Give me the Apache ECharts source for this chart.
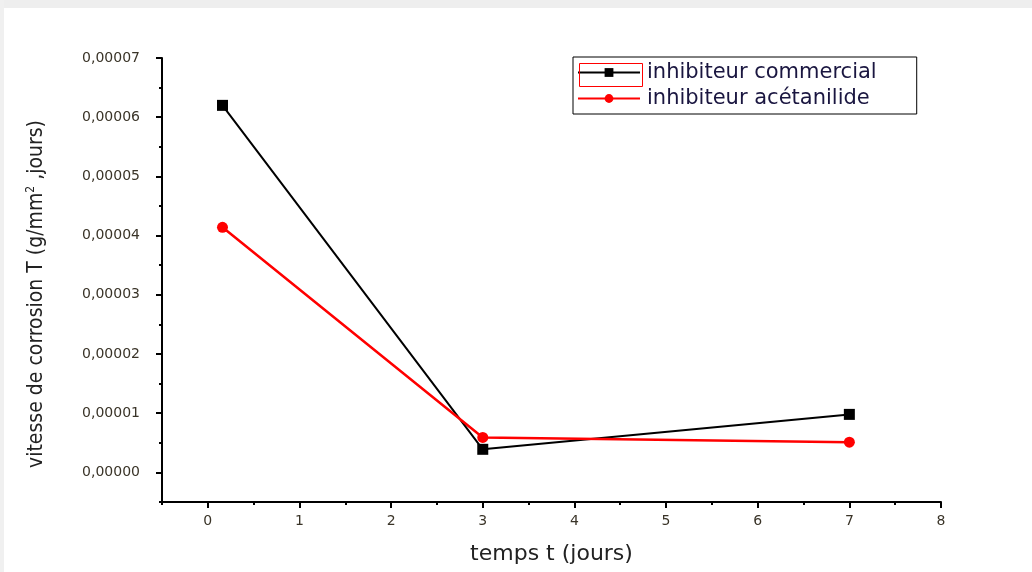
<!DOCTYPE html>
<html>
<head>
<meta charset="utf-8">
<style>
  html, body { margin: 0; padding: 0; background: #ffffff; }
  #chart { width: 1032px; height: 572px; }
</style>
<script src="https://cdn.jsdelivr.net/npm/echarts@6/dist/echarts.min.js"></script>
</head>
<body>
<div id="chart"></div>
<script>
// Corrosion rate versus immersion time for two inhibitors
const seriesNames = ['inhibiteur commercial', 'inhibiteur acétanilide'];
const timeDays = [0.16, 3, 7];
const commercialRate = [0.000062, 0.0000039, 0.0000098];
const acetanilideRate = [0.0000414, 0.0000059, 0.0000051];

// Axis ticks
const xMajorTicks = [0, 1, 2, 3, 4, 5, 6, 7, 8];
const xMinorTicks = [-0.5, 0.5, 1.5, 2.5, 3.5, 4.5, 5.5, 6.5, 7.5];
const yMajorTicks = [0, 0.00001, 0.00002, 0.00003, 0.00004, 0.00005, 0.00006, 0.00007];
const yMinorTicks = [-0.000005, 0.000005, 0.000015, 0.000025, 0.000035, 0.000045, 0.000055, 0.000065];

const X_MIN = -0.5, X_MAX = 8;
const Y_MIN = -0.000005, Y_MAX = 0.00007;

const chart = echarts.init(document.getElementById('chart'));

const axisLine = { show: true, onZero: false, lineStyle: { color: '#000', width: 2 } };
const labelFont = { fontFamily: 'DejaVu Sans', fontSize: 14, color: '#3a3428' };
const condensed = "'DejaVu Sans Condensed', 'Liberation Sans', sans-serif";

const option = {
  backgroundColor: '#ffffff',
  animation: false,
  graphic: [
    { type: 'rect', left: 0, top: 0, shape: { width: 1032, height: 8 }, style: { fill: '#eeeeee' }, silent: true },
    { type: 'rect', left: 0, top: 0, shape: { width: 4, height: 572 }, style: { fill: '#f0f0f0' }, silent: true },
    { type: 'rect', left: 577, top: 61, shape: { width: 63, height: 23 }, style: { fill: 'none', stroke: '#ff0000', lineWidth: 1 }, silent: true, z: 100 }
  ],
  grid: { left: 162, right: 91, top: 58, bottom: 70, containLabel: false },
  legend: {
    data: seriesNames,
    orient: 'vertical',
    left: 573,
    top: 57,
    padding: [5, 40, 5, 4],
    itemGap: 5,
    itemWidth: 62,
    itemHeight: 11,
    borderColor: '#000',
    borderWidth: 1,
    textStyle: { fontFamily: 'DejaVu Sans', fontSize: 21, color: '#1a1640', padding: [0, 0, 0, 2] }
  },
  xAxis: [
    {
      type: 'value', min: X_MIN, max: X_MAX,
      axisLine: axisLine,
      splitLine: { show: false },
      axisTick: { show: true, inside: false, length: 6, lineStyle: { color: '#000', width: 2 }, customValues: xMajorTicks },
      axisLabel: Object.assign({ margin: 12, customValues: xMajorTicks, formatter: v => String(v) }, labelFont),
      name: 'temps t (jours)',
      nameLocation: 'middle',
      nameGap: 41,
      nameTextStyle: { fontFamily: 'DejaVu Sans', fontSize: 22, color: '#222' }
    },
    {
      type: 'value', min: X_MIN, max: X_MAX, position: 'bottom',
      axisLine: { show: false, onZero: false },
      splitLine: { show: false },
      axisTick: { show: true, inside: false, length: 3, lineStyle: { color: '#000', width: 2 }, customValues: xMinorTicks },
      axisLabel: { show: false }
    }
  ],
  yAxis: [
    {
      type: 'value', min: Y_MIN, max: Y_MAX,
      axisLine: axisLine,
      splitLine: { show: false },
      axisTick: { show: true, inside: false, length: 6, lineStyle: { color: '#000', width: 2 }, customValues: yMajorTicks },
      axisLabel: Object.assign({ margin: 22, customValues: yMajorTicks, formatter: v => v.toFixed(5).replace('.', ',') }, labelFont),
      name: 'vitesse de corrosion T (g/mm{sup|2} ,jours)',
      nameLocation: 'middle',
      nameRotate: 90,
      nameGap: 114,
      nameTextStyle: {
        fontFamily: condensed, fontSize: 21, color: '#222',
        padding: [0, 28, 0, 0],
        rich: { sup: { fontFamily: condensed, fontSize: 12, color: '#222', verticalAlign: 'bottom', padding: [0, 0, 11, 0] } }
      }
    },
    {
      type: 'value', min: Y_MIN, max: Y_MAX, position: 'left',
      axisLine: { show: false, onZero: false },
      splitLine: { show: false },
      axisTick: { show: true, inside: false, length: 3, lineStyle: { color: '#000', width: 2 }, customValues: yMinorTicks },
      axisLabel: { show: false }
    }
  ],
  series: [
    {
      name: seriesNames[0],
      type: 'line',
      data: timeDays.map((t, i) => [t, commercialRate[i]]),
      symbol: 'rect',
      symbolSize: 11,
      itemStyle: { color: '#000' },
      lineStyle: { color: '#000', width: 2 },
      z: 3
    },
    {
      name: seriesNames[1],
      type: 'line',
      data: timeDays.map((t, i) => [t, acetanilideRate[i]]),
      symbol: 'circle',
      symbolSize: 11,
      itemStyle: { color: '#ff0000' },
      lineStyle: { color: '#ff0000', width: 2.5 },
      z: 4
    }
  ]
};

chart.setOption(option);
</script>
</body>
</html>
